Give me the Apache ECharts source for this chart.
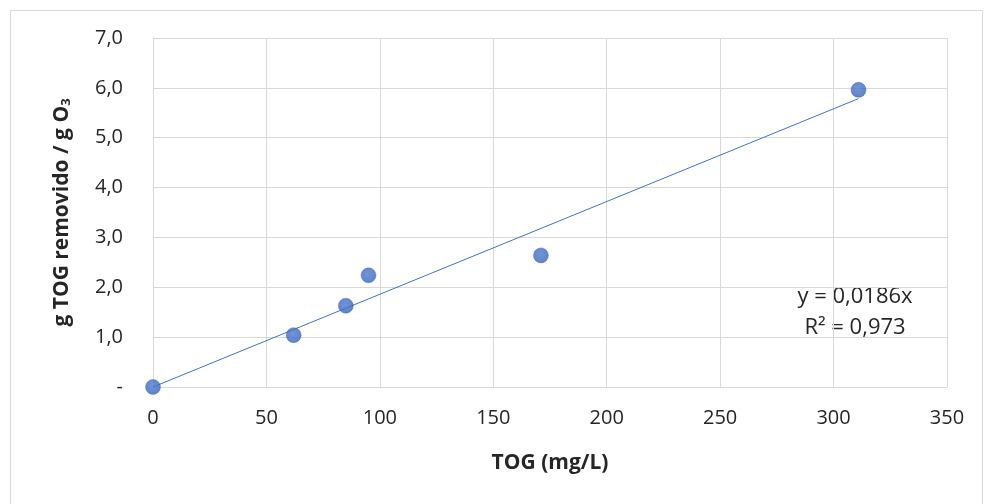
<!DOCTYPE html>
<html><head><meta charset="utf-8">
<script src="https://cdn.jsdelivr.net/npm/echarts@6/dist/echarts.min.js"></script>
<style>html,body{margin:0;padding:0;background:#fff}#c{width:984px;height:504px}</style>
</head><body><div id="c"></div>
<script>
const xValues = [0, 62, 85, 95, 171, 311];
const yValues = [0, 1.04, 1.63, 2.24, 2.64, 5.96];
const slope = 0.0186;
const trendX = [0, 311];
const equationText = 'y = 0,0186x';
const r2Text = 'R² = 0,973';
const xTitle = 'TOG (mg/L)';

const font = '"Open Sans", "Liberation Sans", sans-serif';
const txt = '#262626';
const chart = echarts.init(document.getElementById('c'));
const pts = xValues.map((x, i) => [x, yValues[i]]);
const trend = trendX.map(x => [x, +(slope * x).toFixed(4)]);
chart.setOption({
  animation: false,
  grid: {left: 153, right: 37, top: 38, bottom: 117, containLabel: false},
  xAxis: {
    type: 'value', min: 0, max: 350, interval: 50,
    axisLine: {show: false}, axisTick: {show: false},
    splitLine: {lineStyle: {color: '#d9d9d9', width: 1}},
    axisLabel: {fontFamily: font, fontSize: 20, color: txt, margin: 21},
    name: xTitle, nameLocation: 'middle', nameGap: 66,
    nameTextStyle: {fontFamily: font, fontSize: 21, fontWeight: 'bold', color: txt}
  },
  yAxis: {
    type: 'value', min: 0, max: 7, interval: 1,
    axisLine: {show: false}, axisTick: {show: false},
    splitLine: {lineStyle: {color: '#d9d9d9', width: 1}},
    axisLabel: {fontFamily: font, fontSize: 20, color: txt, margin: 30,
      formatter: v => v === 0 ? '-' : v.toFixed(1).replace('.', ',')},
    name: '{a|g TOG removido / g O}{s|3}', nameLocation: 'middle', nameGap: 80, nameRotate: 90,
    nameTextStyle: {rich: {
      a: {fontFamily: font, fontSize: 21, fontWeight: 'bold', color: txt},
      s: {fontFamily: font, fontSize: 13, fontWeight: 'bold', color: txt, verticalAlign: 'bottom', padding: [9, 0, 0, 0]}
    }}
  },
  series: [
    {type: 'line', data: trend, symbol: 'none', lineStyle: {color: '#4472C4', width: 1}, z: 2},
    {type: 'scatter', data: pts, symbolSize: 15,
      itemStyle: {color: new echarts.graphic.RadialGradient(0.45, 0.4, 0.7, [
        {offset: 0, color: '#4a7bd0'}, {offset: 1, color: '#3560b5'}]), borderColor: '#3a64b4', borderWidth: 0.5}, z: 3}
  ],
  graphic: [
    {type: 'rect', left: 8, top: 8, shape: {width: 972, height: 500}, style: {fill: 'none', stroke: '#d9d9d9', lineWidth: 1}, silent: true},
    {type: 'text', x: 855, y: 297, style: {text: equationText, font: '22px ' + font, fill: txt, textAlign: 'center', textVerticalAlign: 'middle'}},
    {type: 'text', x: 855, y: 328, style: {text: r2Text, font: '22px ' + font, fill: txt, textAlign: 'center', textVerticalAlign: 'middle'}}
  ]
});
</script></body></html>
